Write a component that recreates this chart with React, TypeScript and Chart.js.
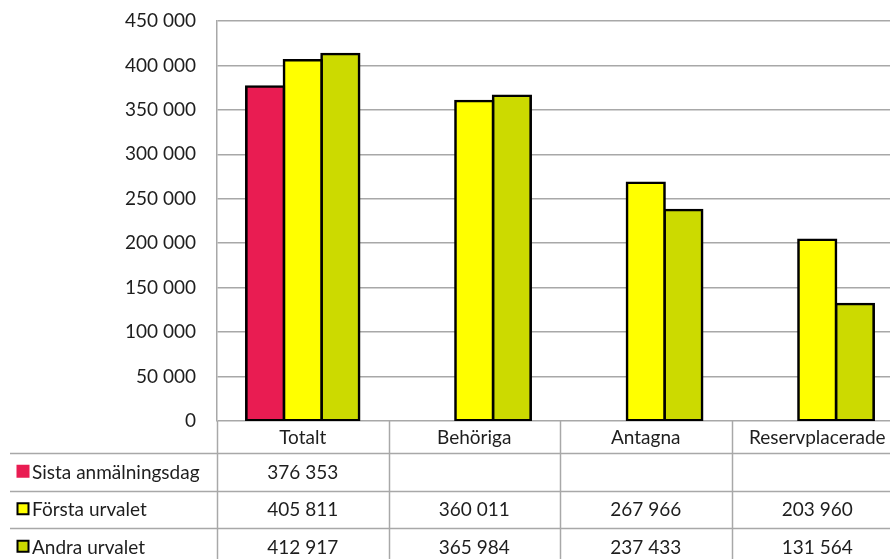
import React, { useEffect, useRef } from "react";
import { Chart, registerables } from "chart.js";

Chart.register(...registerables);

const categories = ["Totalt", "Behöriga", "Antagna", "Reservplacerade"];
const seriesNames = ["Sista anmälningsdag", "Första urvalet", "Andra urvalet"];
const sistaAnmalningsdag: (number | null)[] = [376353, null, null, null];
const forstaUrvalet: (number | null)[] = [405811, 360011, 267966, 203960];
const andraUrvalet: (number | null)[] = [412917, 365984, 237433, 131564];
const seriesColors = ["#E91C52", "#FFFF00", "#CCDA00"];
const seriesBorders = [false, true, true];
const yMax = 450000;
const yStep = 50000;

const FONT = "Lato, 'Open Sans', sans-serif";
const GRID = "#A8A8A8";
const TEXT = "#1e1e1e";

function fmt(n: number | null): string {
  if (n === null || n === undefined) return "";
  return String(n).replace(/\B(?=(\d{3})+(?!\d))/g, " ");
}

const tablePlugin = {
  id: "dataTable",
  afterDraw(chart: any) {
    const ctx = chart.ctx;
    const x = chart.scales.x;
    const area = chart.chartArea;
    const H = chart.height;
    const W = chart.width;
    const n = categories.length;
    const catW = (area.right - area.left) / n;
    const headerBottom = area.bottom + 32;
    const rowH = 37.5;
    ctx.save();
    ctx.strokeStyle = GRID;
    ctx.lineWidth = 1.5;
    for (let i = 0; i < n; i++) {
      const bx = Math.round(x.getPixelForValue(i) - catW / 2) + 0.5;
      ctx.beginPath();
      ctx.moveTo(bx, area.bottom);
      ctx.lineTo(bx, H);
      ctx.stroke();
    }
    for (let r = 0; r < seriesNames.length; r++) {
      const y = Math.round(headerBottom + r * rowH) + 0.5;
      ctx.beginPath();
      ctx.moveTo(10, y);
      ctx.lineTo(W, y);
      ctx.stroke();
    }
    ctx.fillStyle = TEXT;
    ctx.font = "19px " + FONT;
    ctx.textAlign = "center";
    ctx.textBaseline = "middle";
    categories.forEach((c, i) => {
      ctx.fillText(c, x.getPixelForValue(i), (area.bottom + headerBottom) / 2 + 1);
    });
    const datasets = chart.data.datasets;
    datasets.forEach((ds: any, r: number) => {
      const cy = headerBottom + r * rowH + rowH / 2;
      const sx = 17.5, sy = cy - 6, ss = 11;
      ctx.fillStyle = seriesColors[r];
      if (seriesBorders[r]) {
        ctx.fillRect(sx, sy, ss, ss);
        ctx.strokeStyle = "#000";
        ctx.lineWidth = 2;
        ctx.strokeRect(sx, sy, ss, ss);
      } else {
        ctx.fillRect(sx - 1, sy - 1, ss + 2, ss + 2);
      }
      ctx.fillStyle = TEXT;
      ctx.textAlign = "left";
      ctx.fillText(ds.label, 32, cy + 1);
      ctx.textAlign = "center";
      ds.data.forEach((v: number | null, i: number) => {
        ctx.fillText(fmt(v), x.getPixelForValue(i), cy + 1);
      });
    });
    ctx.restore();
  },
};

export default function App() {
  const ref = useRef<HTMLCanvasElement>(null);
  useEffect(() => {
    if (!ref.current) return;
    const seriesData = [sistaAnmalningsdag, forstaUrvalet, andraUrvalet];
    const chart = new Chart(ref.current, {
      type: "bar",
      data: {
        labels: categories,
        datasets: seriesData.map((d, i) => ({
          label: seriesNames[i],
          data: d,
          backgroundColor: seriesColors[i],
          borderColor: "#000",
          borderWidth: 2.6,
          inflateAmount: 1.3,
          borderSkipped: false,
          categoryPercentage: 0.658,
          barPercentage: 1,
        })),
      },
      options: {
        responsive: false,
        animation: false,
        datasets: { bar: { categoryPercentage: 0.658, barPercentage: 1 } },
        layout: { padding: { top: 21, bottom: 159, left: 0, right: 0 } },
        plugins: { legend: { display: false }, tooltip: { enabled: false } },
        scales: {
          x: { display: false },
          y: {
            min: 0,
            max: yMax,
            ticks: {
              stepSize: yStep,
              padding: 0,
              color: TEXT,
              font: { family: FONT, size: 19 },
              callback: (v: any) => fmt(Number(v)),
            },
            grid: {
              color: GRID,
              lineWidth: 1.5,
              drawTicks: true,
              tickLength: 21,
              tickColor: "rgba(0,0,0,0)",
            },
            border: { display: true, color: GRID, width: 1.5 },
            afterFit: (axis: any) => {
              axis.width = 217;
            },
          },
        },
      },
      plugins: [tablePlugin],
    });
    return () => chart.destroy();
  }, []);
  return (
    <div style={{ position: "fixed", left: 0, top: 0, width: 890, height: 559, overflow: "hidden", background: "#fff" }}>
      <canvas ref={ref} width={903} height={580} style={{ width: 903, height: 580, display: "block" }} />
    </div>
  );
}
